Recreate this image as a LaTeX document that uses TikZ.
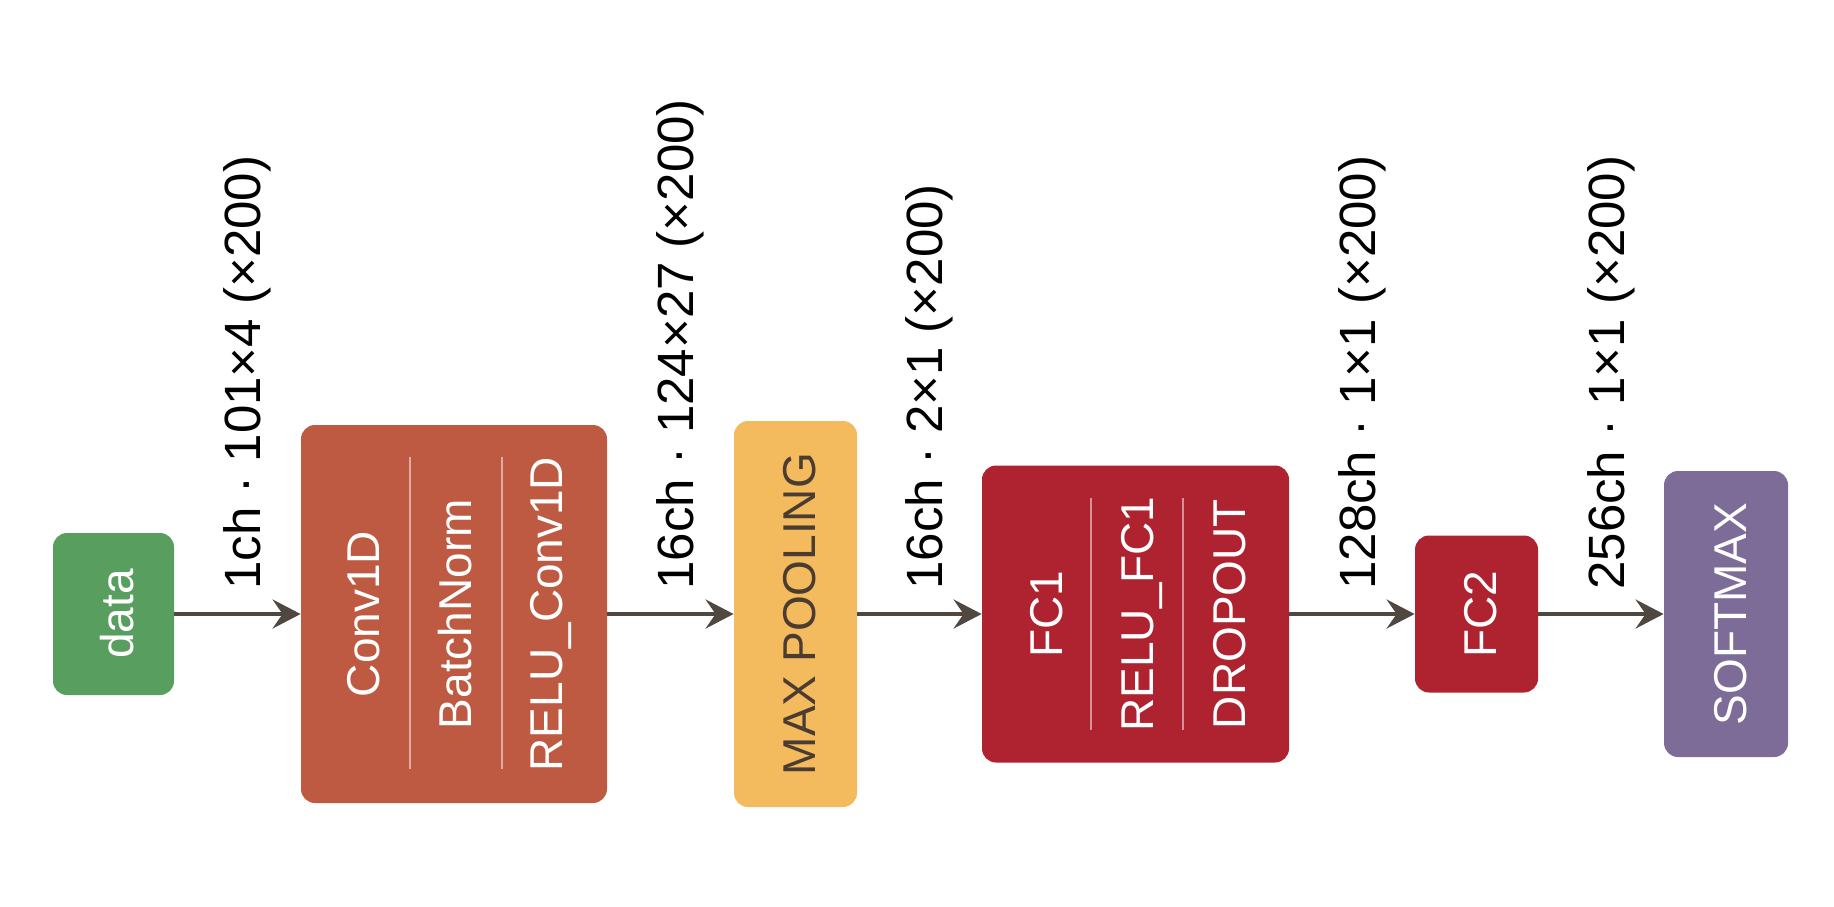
\documentclass[tikz,border=0pt]{standalone}
\usepackage{fontspec}
\setmainfont{Liberation Sans}
\usetikzlibrary{arrows.meta}
\definecolor{cdata}{HTML}{589E5F}
\definecolor{cconv}{HTML}{BE5A41}
\definecolor{cpool}{HTML}{F4BA5E}
\definecolor{cfc}{HTML}{AF222F}
\definecolor{csoft}{HTML}{7D6C98}
\definecolor{carrow}{HTML}{4F4740}
\definecolor{cpooltext}{HTML}{4A3C30}
\begin{document}
\begin{tikzpicture}[x=0.5pt,y=-0.5pt,
  blk/.style={draw=none, rounded corners=7pt, inner sep=0pt},
  btxt/.style={rotate=90, anchor=base, inner sep=0pt, text=white, font=\fontsize{23}{27}\selectfont},
  lbl/.style={rotate=90, anchor=base west, inner sep=0pt, text=black, font=\fontsize{25.5}{30}\selectfont},
  sepline/.style={draw=white, draw opacity=0.5, line width=1pt},
  arr/.style={draw=carrow, line width=2pt, -{Stealth[length=14pt, width=14.5pt, inset=5pt]}}]
\useasboundingbox (0,0) rectangle (1834,906);
% boxes
\node[blk, fill=cdata, minimum width=60.5pt, minimum height=81pt] (data) at (113.5,614) {};
\node[blk, fill=cconv, minimum width=153pt, minimum height=189pt] (conv) at (454,614) {};
\node[blk, fill=cpool, minimum width=61.5pt, minimum height=193pt] (pool) at (795.5,614) {};
\node[blk, fill=cfc, minimum width=153.5pt, minimum height=148.5pt] (fc1) at (1135.5,614) {};
\node[blk, fill=cfc, minimum width=61.5pt, minimum height=78.5pt] (fc2) at (1476.5,614) {};
\node[blk, fill=csoft, minimum width=62pt, minimum height=143pt] (soft) at (1726,614) {};
% separators
\draw[sepline] (410,457) -- (410,769);
\draw[sepline] (502,457) -- (502,769);
\draw[sepline] (1091,498) -- (1091,730);
\draw[sepline] (1183,498) -- (1183,730);
% box texts
\node[btxt] (tdata) at (133,614) {data};
\node[btxt] (tconv) at (379,614) {Conv1D};
\node[btxt] (tbn) at (471,614) {BatchNorm};
\node[btxt] (trelu) at (562,614) {RELU\_Conv1D};
\node[btxt, text=cpooltext] (tpool) at (815,614) {MAX POOLING};
\node[btxt] (tfc1) at (1062,614) {FC1};
\node[btxt] (trfc) at (1153,614) {RELU\_FC1};
\node[btxt] (tdrop) at (1245,614) {DROPOUT};
\node[btxt] (tfc2) at (1496,614) {FC2};
\node[btxt] (tsoft) at (1746,614) {SOFTMAX};
% connectors
\draw[arr] (data.east) -- (conv.west);
\draw[arr] (conv.east) -- (pool.west);
\draw[arr] (pool.east) -- (fc1.west);
\draw[arr] (fc1.east) -- (fc2.west);
\draw[arr] (fc2.east) -- (soft.west);
% labels
\node[lbl] (l1) at (260,590) {1ch · 101×4 (×200)};
\node[lbl] (l2) at (693,590) {16ch · 124×27 (×200)};
\node[lbl] (l3) at (942,590) {16ch · 2×1 (×200)};
\node[lbl] (l4) at (1375,590) {128ch · 1×1 (×200)};
\node[lbl] (l5) at (1624,590) {256ch · 1×1 (×200)};
\end{tikzpicture}
\end{document}
